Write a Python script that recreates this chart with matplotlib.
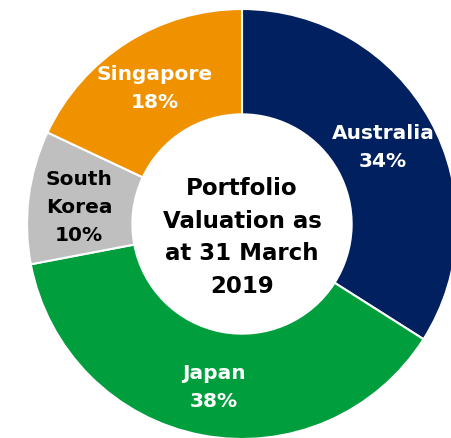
import matplotlib
matplotlib.use("Agg")
import matplotlib.pyplot as plt

countries = ["Australia", "Japan", "South\nKorea", "Singapore"]
shares = [34, 38, 10, 18]
colors = ["#002060", "#009E3D", "#BFBFBF", "#F09100"]
text_colors = ["white", "white", "black", "white"]
center_title = "Portfolio\nValuation as\nat 31 March\n2019"

W, H = 452, 438
fig = plt.figure(figsize=(W / 100, H / 100), dpi=100)
ax = fig.add_axes([0, 0, 1, 1])

cx, cy, R = 242, H - 224, 215
ax.pie(shares, colors=colors, startangle=90, counterclock=False,
       center=(cx, cy), radius=R, frame=True,
       wedgeprops=dict(width=R * 0.49, edgecolor="white", linewidth=1.5))
ax.set_xlim(0, W)
ax.set_ylim(0, H)
ax.axis("off")

font = "DejaVu Sans"
label_pos = [(383, 147), (214, 388), (79, 207.5), (155, 88.5)]
for name, val, (px, py), tc in zip(countries, shares, label_pos, text_colors):
    ax.text(px, H - py, f"{name}\n{val}%", ha="center", va="center",
            color=tc, fontsize=14.5, fontweight="bold", family=font,
            linespacing=1.6)

ax.text(cx, H - 237.5, center_title, ha="center", va="center", color="black",
        fontsize=16.5, fontweight="bold", family=font, linespacing=1.52)

fig.savefig("out.png", dpi=100)
